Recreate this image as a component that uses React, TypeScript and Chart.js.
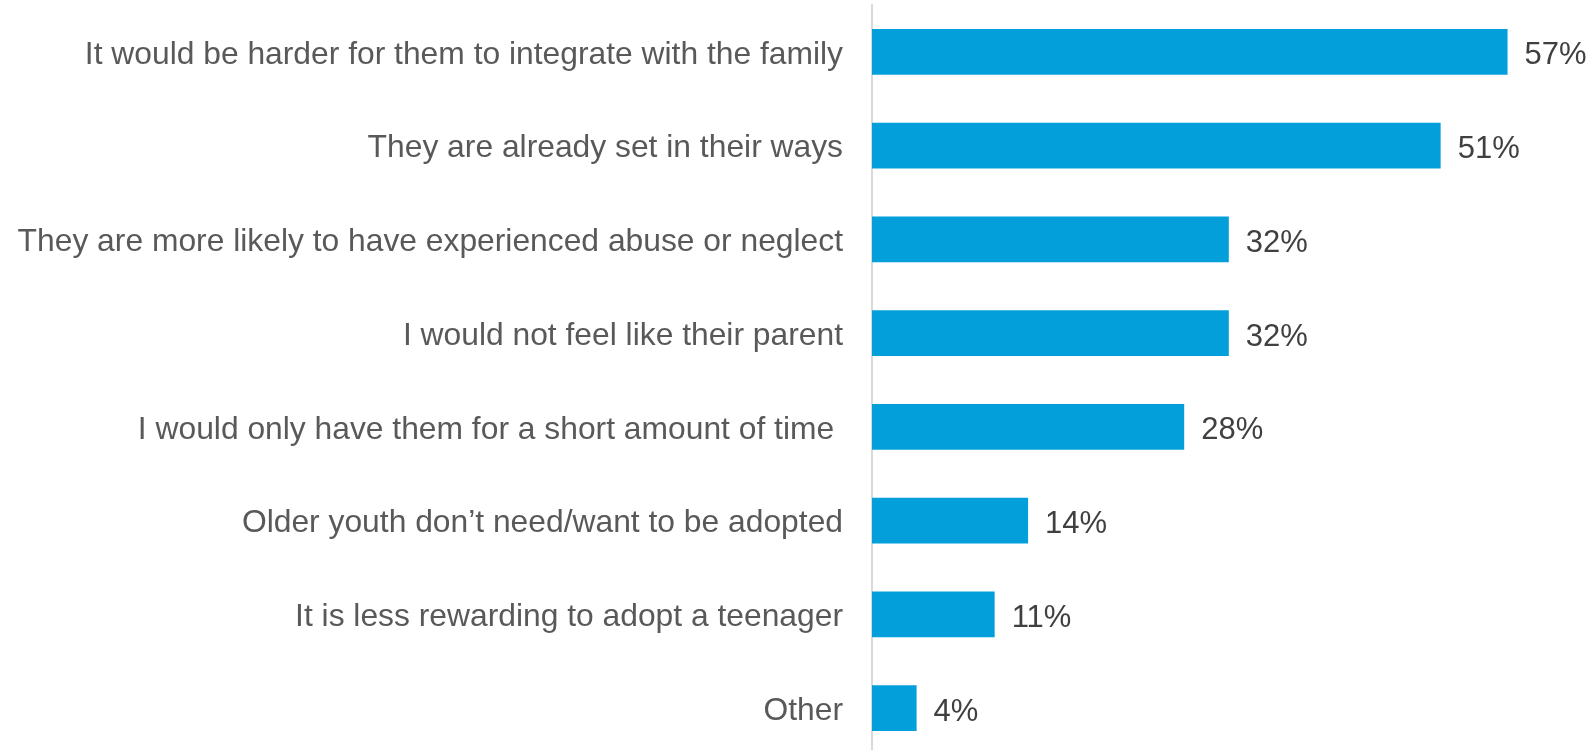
import React, { useEffect, useRef } from "react";
import { Chart, registerables } from "chart.js";

Chart.register(...registerables);

const categories = [
  "It would be harder for them to integrate with the family",
  "They are already set in their ways",
  "They are more likely to have experienced abuse or neglect",
  "I would not feel like their parent",
  "I would only have them for a short amount of time ",
  "Older youth don\u2019t need/want to be adopted",
  "It is less rewarding to adopt a teenager",
  "Other",
];
const values = [57, 51, 32, 32, 28, 14, 11, 4];

const valueLabelPlugin = {
  id: "valueLabels",
  afterDatasetsDraw(chart: any) {
    const { ctx } = chart;
    const meta = chart.getDatasetMeta(0);
    ctx.save();
    ctx.font = "31px 'Liberation Sans', Arial, sans-serif";
    ctx.fillStyle = "#404040";
    ctx.textAlign = "left";
    ctx.textBaseline = "middle";
    meta.data.forEach((bar: any, i: number) => {
      ctx.fillText(values[i] + "%", bar.x + 17, bar.y + 4);
    });
    ctx.restore();
  },
};

export default function App() {
  const ref = useRef<HTMLCanvasElement>(null);
  useEffect(() => {
    if (!ref.current) return;
    const chart = new Chart(ref.current, {
      type: "bar",
      data: {
        labels: categories,
        datasets: [
          {
            data: values,
            backgroundColor: "#039FDB",
            borderWidth: 0,
            barPercentage: 0.49,
            categoryPercentage: 1,
          },
        ],
      },
      options: {
        indexAxis: "y",
        animation: false,
        responsive: false,
        maintainAspectRatio: false,
        layout: { padding: { top: 5, bottom: 5, left: 0, right: 52 } },
        plugins: { legend: { display: false }, tooltip: { enabled: false } },
        scales: {
          x: { display: false, min: 0, max: 60 },
          y: {
            afterFit(scale: any) {
              scale.width = 872;
              scale.paddingTop = 0;
              scale.paddingBottom = 0;
            },
            grid: { display: true, color: "rgba(0,0,0,0)", drawTicks: false },
            border: { display: true, color: "#D9D9D9", width: 2 },
            ticks: {
              padding: 29,
              labelOffset: 3,
              color: "#595959",
              font: { family: "'Liberation Sans', Arial, sans-serif", size: 31.8 },
            },
          },
        },
      },
      plugins: [valueLabelPlugin],
    });
    return () => chart.destroy();
  }, []);
  return (
    <div
      style={{
        position: "fixed",
        left: 0,
        top: 0,
        width: 1593,
        height: 750,
        overflow: "hidden",
        background: "#fff",
      }}
    >
      <canvas ref={ref} width={1593} height={760} style={{ display: "block" }} />
    </div>
  );
}
